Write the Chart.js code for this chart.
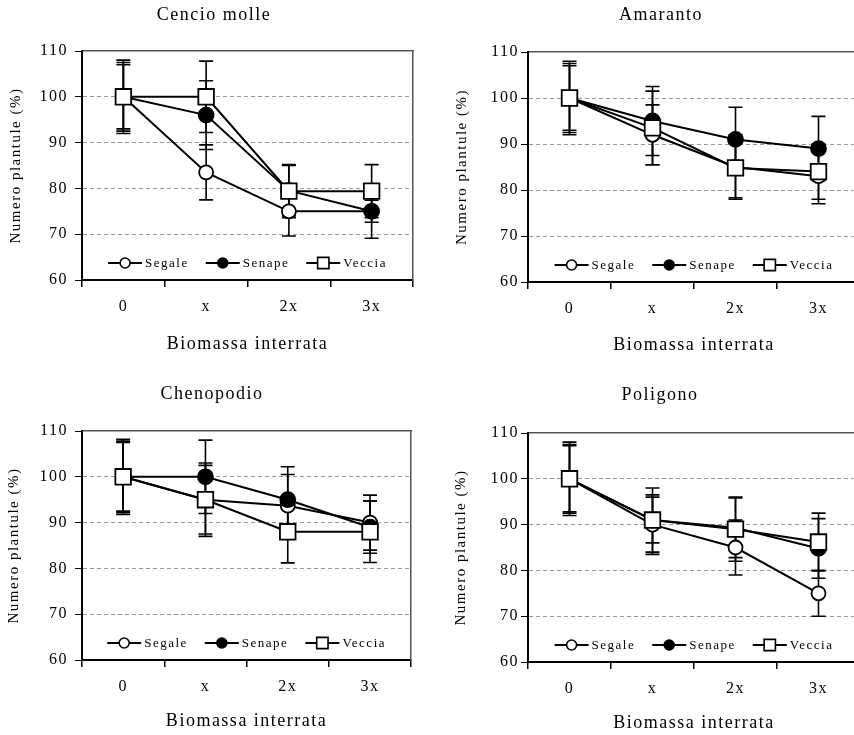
<!DOCTYPE html>
<html>
<head>
<meta charset="utf-8">
<script src="https://cdn.jsdelivr.net/npm/chart.js@4.4.0/dist/chart.umd.min.js"></script>
<style>
  html, body { margin: 0; padding: 0; background: #fff; overflow: hidden; }
  #wrap { position: relative; width: 854px; height: 735px; overflow: hidden; }
  canvas { position: absolute; }
</style>
</head>
<body>
<div id="wrap">
  <canvas id="c1"></canvas>
  <canvas id="c2"></canvas>
  <canvas id="c3"></canvas>
  <canvas id="c4"></canvas>
</div>
<script>
const categories = ['0', 'x', '2x', '3x'];
const seriesNames = ['Segale', 'Senape', 'Veccia'];
const yMin = 60, yMax = 110, yStep = 10;

// Cencio molle
const cencioSegale = [100, 83.5, 75, 75];
const cencioSenape = [100, 96, 79.5, 75];
const cencioVeccia = [100, 100, 79.4, 79.4];
const cencioSegaleErr = [8, 6, 5.4, 5.9];
const cencioSenapeErr = [7.5, 7.5, 5.5, 2.4];
const cencioVecciaErr = [7, 7.8, 5.8, 5.8];

// Amaranto
const amarantoSegale = [100, 92, 85, 83];
const amarantoSenape = [100, 95, 91, 89];
const amarantoVeccia = [100, 93.5, 84.8, 84];
const amarantoSegaleErr = [8, 6.5, 7, 6];
const amarantoSenapeErr = [7, 7.5, 7, 7];
const amarantoVecciaErr = [7.5, 8, 6.5, 6];

// Chenopodio
const chenoSegale = [100, 95, 93.7, 90];
const chenoSenape = [100, 100, 95, 89];
const chenoVeccia = [100, 95, 88, 88];
const chenoSegaleErr = [8.2, 8, 6.8, 6];
const chenoSenapeErr = [7.5, 8, 7.2, 5.7];
const chenoVecciaErr = [7.8, 7.5, 6.8, 6.7];

// Poligono
const poliSegale = [100, 90, 85, 75];
const poliSenape = [100, 91, 89.3, 84.8];
const poliVeccia = [100, 91, 89, 86.2];
const poliSegaleErr = [8, 6.5, 6, 5];
const poliSenapeErr = [7.2, 5, 6.5, 6.5];
const poliVecciaErr = [7.5, 7, 7, 6.3];

const SERIF = '"Liberation Serif", "Times New Roman", serif';
const markers = [
  { shape: 'circle', r: 7, fill: '#fff' },
  { shape: 'circle', r: 7.5, fill: '#000' },
  { shape: 'rect', r: 11, fill: '#fff' }
];

// the scanned figure has loosely spaced text
const spacing = {
  id: 'spacing',
  beforeUpdate(chart) { chart.ctx.letterSpacing = '1.5px'; },
  beforeDraw(chart) { chart.ctx.letterSpacing = '1.5px'; }
};

const errorBars = {
  id: 'errorBars',
  beforeDatasetsDraw(chart) {
    const ctx = chart.ctx;
    const y = chart.scales.y;
    ctx.save();
    ctx.strokeStyle = '#000';
    ctx.lineWidth = 1.6;
    chart.data.datasets.forEach((ds, di) => {
      const meta = chart.getDatasetMeta(di);
      ds.data.forEach((v, i) => {
        const x = meta.data[i].x;
        const top = y.getPixelForValue(v + ds.errors[i]);
        const bot = y.getPixelForValue(v - ds.errors[i]);
        ctx.beginPath();
        ctx.moveTo(x, top); ctx.lineTo(x, bot);
        ctx.moveTo(x - 7, top); ctx.lineTo(x + 7, top);
        ctx.moveTo(x - 7, bot); ctx.lineTo(x + 7, bot);
        ctx.stroke();
      });
    });
    ctx.restore();
  }
};

const insideLegend = {
  id: 'insideLegend',
  afterDatasetsDraw(chart) {
    const { ctx, chartArea } = chart;
    const sets = chart.data.datasets;
    const lineLen = 34, gap = 3, itemGap = 17;
    ctx.save();
    ctx.letterSpacing = '1.5px';
    ctx.font = '13px ' + SERIF;
    const widths = sets.map(ds => lineLen + gap + ctx.measureText(ds.label).width);
    const total = widths.reduce((a, b) => a + b, 0) + itemGap * (sets.length - 1);
    let x = (chartArea.left + chartArea.right) / 2 - total / 2;
    const y = chartArea.bottom - 17;
    sets.forEach((ds, i) => {
      ctx.strokeStyle = '#000';
      ctx.lineWidth = 2;
      ctx.beginPath();
      ctx.moveTo(x, y); ctx.lineTo(x + lineLen, y);
      ctx.stroke();
      ctx.fillStyle = ds.pointBackgroundColor;
      ctx.lineWidth = 1.6;
      Chart.helpers.drawPoint(ctx, {
        pointStyle: ds.pointStyle,
        radius: ds.pointStyle === 'rect' ? 8 : 5,
        borderWidth: 1.6
      }, x + lineLen / 2, y);
      ctx.fillStyle = '#000';
      ctx.textBaseline = 'middle';
      ctx.textAlign = 'left';
      ctx.fillText(ds.label, x + lineLen + gap, y + 1);
      x += widths[i] + itemGap;
    });
    ctx.restore();
  }
};

function panel(id, box, titleText, values, errors) {
  const cv = document.getElementById(id);
  cv.width = box.w;
  cv.height = box.h;
  cv.style.left = box.left + 'px';
  cv.style.top = box.top + 'px';

  return new Chart(cv, {
    type: 'line',
    data: {
      labels: categories,
      datasets: seriesNames.map((name, i) => ({
        label: name,
        data: values[i],
        errors: errors[i],
        borderColor: '#000',
        borderWidth: 2,
        tension: 0,
        pointStyle: markers[i].shape,
        pointRadius: markers[i].r,
        pointBackgroundColor: markers[i].fill,
        pointBorderColor: '#000',
        pointBorderWidth: 1.8,
        order: 3 - i
      }))
    },
    options: {
      responsive: false,
      animation: false,
      layout: { padding: 0 },
      plugins: {
        legend: { display: false },
        tooltip: { enabled: false },
        title: {
          display: true,
          text: titleText,
          color: '#000',
          font: { family: SERIF, size: 18, weight: 'normal' },
          padding: { top: 4.2, bottom: box.titleGap }
        }
      },
      scales: {
        x: {
          offset: true,
          grid: { display: true, drawOnChartArea: false, offset: true, tickLength: 7, color: '#000', lineWidth: 1.5 },
          border: { color: '#000', width: 2 },
          ticks: { color: '#000', padding: 10, font: { family: SERIF, size: 16 } },
          title: {
            display: true, text: 'Biomassa interrata', color: '#000',
            font: { family: SERIF, size: 18 },
            padding: { top: 0, bottom: box.xTitlePad }
          },
          afterFit(s) { s.height = box.xh; }
        },
        // frame line along the top of the plot
        x2: {
          position: 'top',
          ticks: { display: false },
          grid: { display: false },
          border: { color: '#555', width: 1.5 },
          afterFit(s) { s.height = 0; }
        },
        y: {
          min: yMin, max: yMax,
          ticks: { stepSize: yStep, color: '#000', padding: box.yTickPad, font: { family: SERIF, size: 16 } },
          grid: {
            color: c => (c.tick && (c.tick.value === yMin || c.tick.value === yMax)) ? 'rgba(0,0,0,0)' : '#9a9a9a',
            tickColor: '#000', tickLength: 7, lineWidth: 1
          },
          border: { color: '#000', width: 2, dash: [4, 3] },
          title: {
            display: true, text: 'Numero plantule (%)', color: '#000',
            font: { family: SERIF, size: 15 },
            padding: { top: box.yTitlePad, bottom: 0 }
          },
          afterFit(s) { s.width = box.yw; }
        },
        // frame line along the right of the plot
        y2: {
          position: 'right',
          ticks: { display: false },
          grid: { display: false },
          border: { color: '#555', width: 1.5 },
          afterFit(s) { s.width = box.rw; }
        }
      }
    },
    plugins: [spacing, errorBars, insideLegend]
  });
}

panel('c1',
  { left: 0, top: 0, w: 428, h: 360, yw: 82, rw: 15, xh: 80, titleGap: 25.2, xTitlePad: 5.2, yTitlePad: 7, yTickPad: 7 },
  'Cencio molle',
  [cencioSegale, cencioSenape, cencioVeccia],
  [cencioSegaleErr, cencioSenapeErr, cencioVecciaErr]);

panel('c2',
  { left: 430, top: 0, w: 462, h: 360, yw: 98, rw: 32, xh: 78, titleGap: 26.2, xTitlePad: 4.2, yTitlePad: 23, yTickPad: 2 },
  'Amaranto',
  [amarantoSegale, amarantoSenape, amarantoVeccia],
  [amarantoSegaleErr, amarantoSenapeErr, amarantoVecciaErr]);

panel('c3',
  { left: 0, top: 379, w: 424, h: 355, yw: 82, rw: 11, xh: 74, titleGap: 26.2, xTitlePad: 2.2, yTitlePad: 5, yTickPad: 7 },
  'Chenopodio',
  [chenoSegale, chenoSenape, chenoVeccia],
  [chenoSegaleErr, chenoSenapeErr, chenoVecciaErr]);

panel('c4',
  { left: 430, top: 380, w: 460, h: 355, yw: 98, rw: 30, xh: 73, titleGap: 27.2, xTitlePad: 1.2, yTitlePad: 22, yTickPad: 2 },
  'Poligono',
  [poliSegale, poliSenape, poliVeccia],
  [poliSegaleErr, poliSenapeErr, poliVecciaErr]);
</script>
</body>
</html>
